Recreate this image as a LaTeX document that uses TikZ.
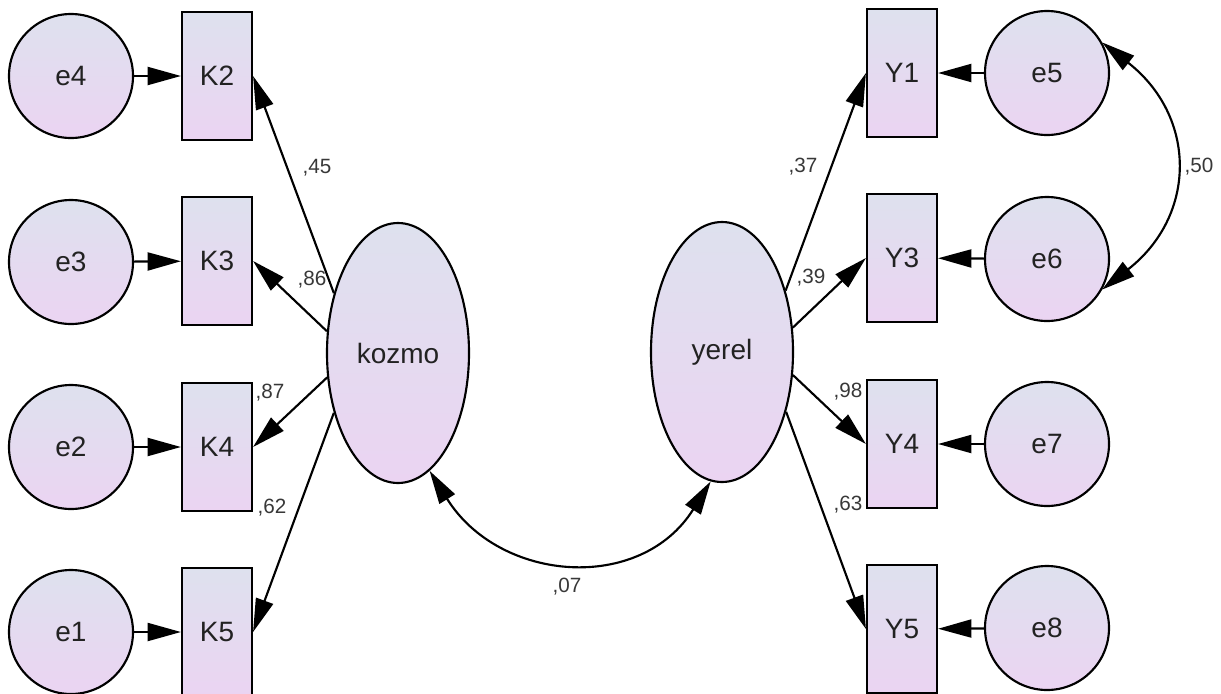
\documentclass[tikz,border=0pt]{standalone}
\usepackage{fontspec}
\setmainfont{Liberation Sans}
\usetikzlibrary{arrows.meta,shapes.geometric}
\definecolor{fillA}{HTML}{DEE1EE}
\definecolor{fillB}{HTML}{EBD4F2}
\definecolor{ink}{HTML}{222222}
\tikzset{
  base/.style={draw=black, line width=1.6pt, top color=fillA, bottom color=fillB,
    font=\fontsize{21}{24}\selectfont, text=ink, inner sep=0pt},
  obs/.style={base, rectangle, minimum width=52.5pt, minimum height=96pt},
  err/.style={base, circle, minimum size=93pt},
  lat/.style={base, ellipse, minimum width=106.5pt, minimum height=195pt},
  tip/.tip={Triangle[length=25pt,width=13.5pt]},
  regpath/.style={line width=1.6pt, -tip},
  covpath/.style={line width=1.6pt, tip-tip},
  coef/.style={font=\fontsize{15.5}{17}\selectfont, text=ink!90, inner sep=0pt}
}
\begin{document}
\begin{tikzpicture}[x=0.75pt,y=-0.75pt]
\useasboundingbox (0,0) rectangle (1221,693);

% latent variables
\node[lat] (kozmo) at (398,353) {kozmo};
\node[lat] (yerel) at (722,352) {yerel};

% indicators of kozmo
\node[obs] (K2) at (217,76)  {K2};
\node[obs] (K3) at (217,261) {K3};
\node[obs] (K4) at (217,447) {K4};
\node[obs] (K5) at (217,632) {K5};

% indicators of yerel
\node[obs] (Y1) at (902,73)  {Y1};
\node[obs] (Y3) at (902,258) {Y3};
\node[obs] (Y4) at (902,444) {Y4};
\node[obs] (Y5) at (902,629) {Y5};

% error terms
\node[err] (e4) at (71,76)  {e4};
\node[err] (e3) at (71,262) {e3};
\node[err] (e2) at (71,447) {e2};
\node[err] (e1) at (71,632) {e1};
\node[err] (e5) at (1047,73)  {e5};
\node[err] (e6) at (1047,259) {e6};
\node[err] (e7) at (1047,444) {e7};
\node[err] (e8) at (1047,628) {e8};

% error paths
\draw[regpath] (e4) -- (K2);
\draw[regpath] (e3) -- (K3);
\draw[regpath] (e2) -- (K4);
\draw[regpath] (e1) -- (K5);
\draw[regpath] (e5) -- (Y1);
\draw[regpath] (e6) -- (Y3);
\draw[regpath] (e7) -- (Y4);
\draw[regpath] (e8) -- (Y5);

% factor loadings
\draw[regpath] (kozmo.137) -- (K2.east);
\draw[regpath] (kozmo.163) -- (K3.east);
\draw[regpath] (kozmo.199) -- (K4.east);
\draw[regpath] (kozmo.223) -- (K5.east);
\draw[regpath] (yerel.44)  -- (Y1.west);
\draw[regpath] (yerel.19)  -- (Y3.west);
\draw[regpath] (yerel.342) -- (Y4.west);
\draw[regpath] (yerel.317) -- (Y5.west);

% covariances
\draw[covpath] (kozmo.285) to[out=-58, in=-122, looseness=1.2] (yerel.265);
\draw[covpath] (e5.29) to[out=-38, in=38, looseness=1.25] (e6.-29);

% estimates
\node[coef] (c45) at (317,168) {,45};
\node[coef] (c86) at (312,280) {,86};
\node[coef] (c87) at (270,393) {,87};
\node[coef] (c62) at (272,508) {,62};
\node[coef] (c37) at (803,167) {,37};
\node[coef] (c39) at (811,278) {,39};
\node[coef] (c98) at (848,392) {,98};
\node[coef] (c63) at (848,505) {,63};
\node[coef] (c07) at (567,587) {,07};
\node[coef] (c50) at (1199,167) {,50};
\end{tikzpicture}
\end{document}
